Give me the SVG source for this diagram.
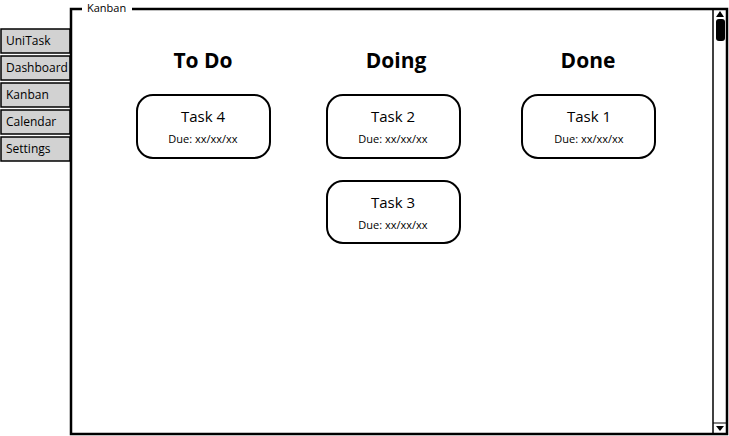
<svg xmlns="http://www.w3.org/2000/svg" width="729" height="436" viewBox="0 0 729 436">
<style>
.tab{fill:#d2d2d2;stroke:#000;stroke-width:1.5}
.tabt{font-family:"Open Sans","Liberation Sans",sans-serif;font-size:12px;fill:#000}
.card{fill:#fff;stroke:#000;stroke-width:2}
.ct{font-family:"Open Sans","Liberation Sans",sans-serif;font-size:15px;fill:#000;text-anchor:middle}
.cd{font-family:"Open Sans","Liberation Sans",sans-serif;font-size:11px;fill:#000;text-anchor:middle}
.h{font-family:"Open Sans","Liberation Sans",sans-serif;font-size:21px;font-weight:bold;fill:#000;text-anchor:middle}
</style>
<rect width="729" height="436" fill="#fff"/>
<g id="tabs">
<g id="tab-unitask"><rect class="tab" x="1" y="29" width="69" height="24"/><text class="tabt" x="6" y="45">UniTask</text></g>
<g id="tab-dashboard"><rect class="tab" x="1" y="56" width="69" height="24"/><text class="tabt" x="6" y="72">Dashboard</text></g>
<g id="tab-kanban"><rect class="tab" x="1" y="83" width="69" height="24"/><text class="tabt" x="6" y="99">Kanban</text></g>
<g id="tab-calendar"><rect class="tab" x="1" y="110" width="69" height="24"/><text class="tabt" x="6" y="126">Calendar</text></g>
<g id="tab-settings"><rect class="tab" x="1" y="137" width="69" height="24"/><text class="tabt" x="6" y="153">Settings</text></g>
</g>
<g id="frame">
<rect x="71" y="9" width="656" height="425" fill="#fff"/>
<path d="M82,9 L71,9 L71,434 L727,434 L727,9 L132,9" fill="none" stroke="#000" stroke-width="2.5"/>
<text x="87" y="12" font-family="'Open Sans','Liberation Sans',sans-serif" font-size="11">Kanban</text>
</g>
<g id="scrollbar">
<line x1="713" y1="9" x2="713" y2="434" stroke="#000" stroke-width="1.5"/>
<path d="M716,17 L720,11 L724,17 Z" fill="#000"/>
<rect x="716" y="19" width="9" height="22" rx="3" fill="#000"/>
<line x1="713" y1="423" x2="727" y2="423" stroke="#000" stroke-width="1"/>
<path d="M716,426 L724,426 L720,431 Z" fill="#000"/>
</g>
<g id="headings">
<text class="h" x="203" y="68">To Do</text>
<text class="h" x="396" y="68">Doing</text>
<text class="h" x="588" y="68">Done</text>
</g>
<g id="task4"><rect class="card" x="137" y="95" width="133" height="63" rx="16"/><text class="ct" x="203" y="122">Task 4</text><text class="cd" x="203" y="143">Due: xx/xx/xx</text></g>
<g id="task2"><rect class="card" x="327" y="95" width="133" height="63" rx="16"/><text class="ct" x="393" y="122">Task 2</text><text class="cd" x="393" y="143">Due: xx/xx/xx</text></g>
<g id="task1"><rect class="card" x="522" y="95" width="133" height="63" rx="16"/><text class="ct" x="589" y="122">Task 1</text><text class="cd" x="589" y="143">Due: xx/xx/xx</text></g>
<g id="task3"><rect class="card" x="327" y="181" width="133" height="62" rx="16"/><text class="ct" x="393" y="208">Task 3</text><text class="cd" x="393" y="229">Due: xx/xx/xx</text></g>
<g id="connectors"/>
</svg>
